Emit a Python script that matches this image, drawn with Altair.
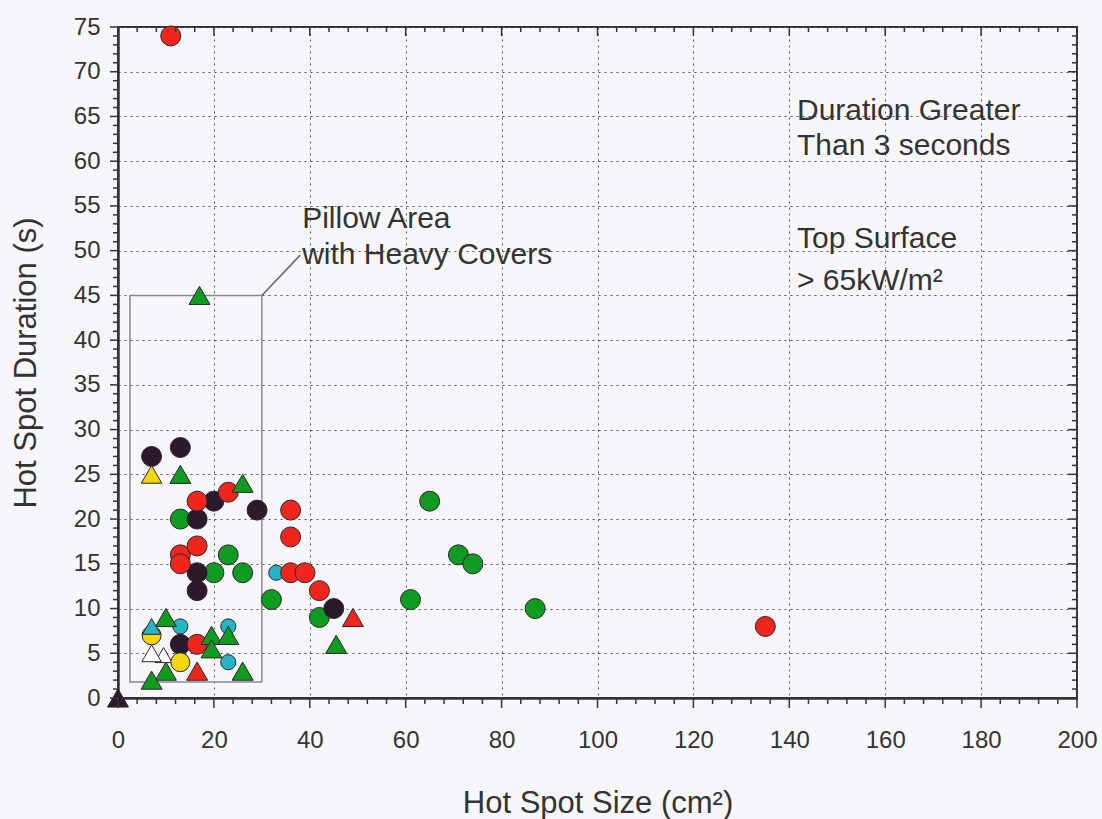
import altair as alt
import pandas as pd

# ---------------- data ----------------
red_circle_x = [11, 16.5, 23, 36, 36, 13, 13, 16.5, 36, 39, 42, 135, 16.5]
red_circle_y = [74, 22, 23, 21, 18, 16, 15, 17, 14, 14, 12, 8, 6]

dark_circle_x = [7, 13, 20, 16.5, 29, 16.5, 16.5, 45, 13]
dark_circle_y = [27, 28, 22, 20, 21, 14, 12, 10, 6]

green_circle_x = [13, 23, 20, 26, 32, 42, 65, 71, 74, 61, 87]
green_circle_y = [20, 16, 14, 14, 11, 9, 22, 16, 15, 11, 10]

cyan_circle_x = [33, 13, 23, 23]
cyan_circle_y = [14, 8, 8, 4]

yellow_circle_x = [7, 13]
yellow_circle_y = [7, 4]

green_tri_x = [17, 13, 26, 10, 19.5, 23, 19.5, 10, 7, 26, 45.5]
green_tri_y = [45, 25, 24, 9, 7, 7, 5.5, 3, 2, 3, 6]

yellow_tri_x = [7]
yellow_tri_y = [25]

cyan_tri_x = [7]
cyan_tri_y = [8]

white_tri_x = [9.5, 7]
white_tri_y = [4.8, 5]

red_tri_x = [49, 16.5]
red_tri_y = [9, 3]

dark_tri_x = [0]
dark_tri_y = [0]

# axis ticks
x_major = list(range(0, 201, 20))
x_minor = [v for v in range(0, 201, 4) if v % 20 != 0]
y_major = list(range(0, 76, 5))
y_minor = [v for v in range(0, 76) if v % 5 != 0]

# pillow area box (data units)
pillow_x = [2.5, 30]
pillow_y = [1.8, 45]
leader_x = [30, 38]
leader_y = [45, 49.5]

FONT = "Liberation Sans"
TXT = "#333333"
EDGE = "#2e2430"

xs = alt.Scale(domain=[0, 200], nice=False, zero=False)
ys = alt.Scale(domain=[0, 75], nice=False, zero=False)

x_axis = alt.Axis(
    values=x_major, grid=True, gridDash=[2, 4], gridColor="#555555", gridWidth=1,
    ticks=False, tickSize=0, labelFont=FONT, labelFontSize=24, labelColor=TXT,
    labelPadding=49, labelBaseline="alphabetic", labelFlush=False,
    domainColor="#333333", domainWidth=2.5,
    title="Hot Spot Size (cm²)", titleFont=FONT, titleFontSize=31,
    titleFontWeight="normal", titleColor=TXT, titleX=479.5, titleY=114,
    titleBaseline="alphabetic", titleAlign="center",
)
y_axis = alt.Axis(
    values=y_major, grid=True, gridDash=[2, 4], gridColor="#555555", gridWidth=1,
    ticks=False, tickSize=0, labelFont=FONT, labelFontSize=24, labelColor=TXT,
    labelPadding=18, labelBaseline="middle", labelFlush=False,
    domainColor="#333333", domainWidth=2.5,
    title="Hot Spot Duration (s)", titleFont=FONT, titleFontSize=31,
    titleFontWeight="normal", titleColor=TXT, titleX=-92, titleY=335.5,
    titleAngle=270, titleBaseline="middle", titleAlign="center",
)


def X(field):
    return alt.X(field, scale=xs, axis=x_axis)


def Y(field):
    return alt.Y(field, scale=ys, axis=y_axis)


def points(xv, yv, color, shape, size):
    df = pd.DataFrame({"x": xv, "y": yv})
    return alt.Chart(df).mark_point(
        filled=True, color=color, stroke=EDGE, strokeWidth=1, shape=shape,
        size=size, opacity=1,
    ).encode(x=X("x:Q"), y=Y("y:Q"))


def vticks(values, at, length):
    df = pd.DataFrame({"v": values, "at": [at] * len(values)})
    return alt.Chart(df).mark_rule(color="#333333", strokeWidth=1.5, y2Offset=length).encode(
        x=X("v:Q"), y=Y("at:Q"), y2="at:Q",
    )


def hticks(values, at, length):
    df = pd.DataFrame({"v": values, "at": [at] * len(values)})
    return alt.Chart(df).mark_rule(color="#333333", strokeWidth=1.5, x2Offset=length).encode(
        y=Y("v:Q"), x=X("at:Q"), x2="at:Q",
    )


def label(x, y, text, size=30):
    return alt.Chart(pd.DataFrame({"x": [x], "y": [y], "t": [text]})).mark_text(
        align="left", baseline="alphabetic", font=FONT, fontSize=size, color=TXT
    ).encode(x=X("x:Q"), y=Y("y:Q"), text="t:N")


box = alt.Chart(pd.DataFrame({"x": [pillow_x[0]], "x2": [pillow_x[1]],
                              "y": [pillow_y[0]], "y2": [pillow_y[1]]})).mark_rect(
    fillOpacity=0, stroke="#8a8a8a", strokeWidth=1.5
).encode(x=X("x:Q"), x2="x2:Q", y=Y("y:Q"), y2="y2:Q")

leader = alt.Chart(pd.DataFrame({"x": [leader_x[0]], "x2": [leader_x[1]],
                                 "y": [leader_y[0]], "y2": [leader_y[1]]})).mark_rule(
    color="#666666", strokeWidth=1.5
).encode(x=X("x:Q"), x2="x2:Q", y=Y("y:Q"), y2="y2:Q")

RED = "#f0261c"
GREEN = "#0f9b1f"
DARK = "#2b1a2c"
CYAN = "#26b4c6"
YELLOW = "#f4d70c"
WHITE = "#ffffff"

layers = [
    box,
    leader,
    points(white_tri_x[:1], white_tri_y[:1], WHITE, "triangle-up", 300),
    points(green_circle_x, green_circle_y, GREEN, "circle", 400),
    points(cyan_circle_x, cyan_circle_y, CYAN, "circle", 230),
    points(dark_circle_x, dark_circle_y, DARK, "circle", 400),
    points(red_circle_x, red_circle_y, RED, "circle", 400),
    points(yellow_circle_x, yellow_circle_y, YELLOW, "circle", 360),
    points(green_tri_x, green_tri_y, GREEN, "triangle-up", 440),
    points(yellow_tri_x, yellow_tri_y, YELLOW, "triangle-up", 420),
    points(white_tri_x[1:], white_tri_y[1:], WHITE, "triangle-up", 380),
    points(cyan_tri_x, cyan_tri_y, CYAN, "triangle-up", 330),
    points(red_tri_x, red_tri_y, RED, "triangle-up", 440),
    points(dark_tri_x, dark_tri_y, DARK, "triangle-up", 440),
    vticks(x_major, 0, 10), vticks(x_minor, 0, 6),
    vticks(x_major, 75, 9), vticks(x_minor, 75, 5),
    hticks(y_major, 0, -8), hticks(y_minor, 0, -5),
    hticks(y_major, 200, -9), hticks(y_minor, 200, -5),
    label(38.4, 52.5, "Pillow Area"),
    label(38.4, 48.5, "with Heavy Covers"),
    label(141.6, 64.6, "Duration Greater"),
    label(141.6, 60.7, "Than 3 seconds"),
    label(141.6, 50.3, "Top Surface"),
    label(141.6, 45.6, "> 65kW/m²"),
]

chart = alt.layer(*layers).properties(
    width=959, height=671,
    autosize=alt.AutoSizeParams(type="none"),
    padding={"left": 118, "top": 27, "right": 25, "bottom": 121},
    background="#f7f7fb",
).configure_view(stroke="#333333", strokeWidth=2)

chart.save("out.html", embed_options={"renderer": "svg", "actions": False})
